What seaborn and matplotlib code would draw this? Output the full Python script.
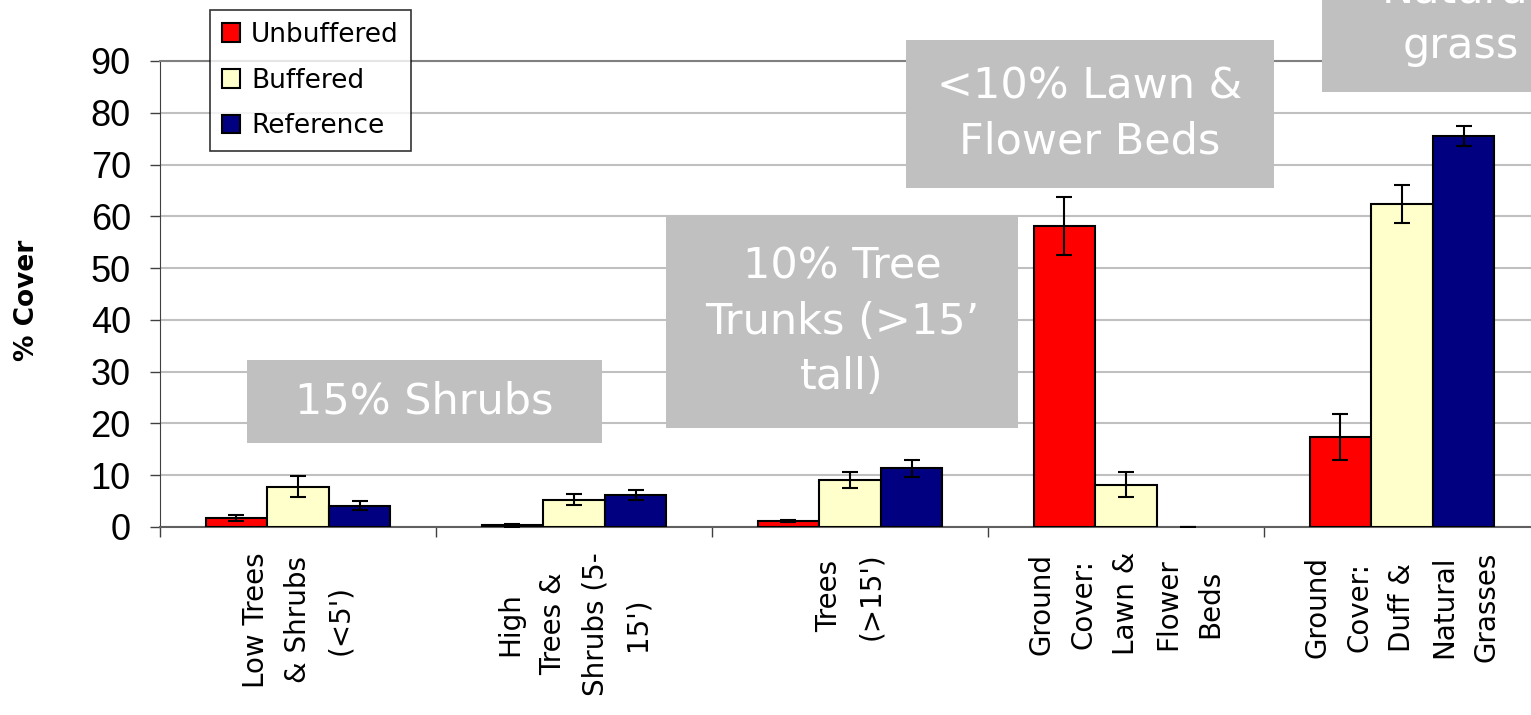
import pandas as pd
import numpy as np
import seaborn as sns
import matplotlib.pyplot as plt
from matplotlib.patches import Rectangle

# Data
categories = ["Low Trees\n& Shrubs\n(<5')",
              "High\nTrees &\nShrubs (5-\n15')",
              "Trees\n(>15')",
              "Ground\nCover:\nLawn &\nFlower\nBeds",
              "Ground\nCover:\nDuff &\nNatural\nGrasses"]
series = ["Unbuffered", "Buffered", "Reference"]
unbuffered = [1.7, 0.35, 1.15, 58.1, 17.4]
buffered = [7.8, 5.3, 9.1, 8.2, 62.4]
reference = [4.1, 6.2, 11.3, 0.0, 75.5]
unbuffered_err = [0.6, 0.3, 0.2, 5.6, 4.4]
buffered_err = [2.1, 1.0, 1.5, 2.5, 3.6]
reference_err = [0.9, 1.0, 1.7, 0.0, 2.0]
yticks = list(range(0, 100, 10))

colors = ["#FF0000", "#FFFFCC", "#000080"]

df = pd.DataFrame({
    "Category": categories * 3,
    "Series": sum([[s] * len(categories) for s in series], []),
    "Cover": unbuffered + buffered + reference,
})
errs = [unbuffered_err, buffered_err, reference_err]

sns.set_style("white")
plt.rcParams["font.family"] = ["DejaVu Sans"]
plt.rcParams["text.color"] = "black"

W, H = 1531, 715
fig = plt.figure(figsize=(W / 100, H / 100), dpi=100)
ax = fig.add_axes([160 / W, (H - 527) / H, 1380 / W, 466 / H])

sns.barplot(data=df, x="Category", y="Cover", hue="Series", palette=colors,
            width=0.67, errorbar=None, edgecolor="black", linewidth=1.5,
            saturation=1, ax=ax, zorder=3)

# error bars on each bar
for cont, e in zip(ax.containers, errs):
    for p in cont:
        if p.get_height() == 0:
            p.set_linewidth(0)
    xs = [p.get_x() + p.get_width() / 2 for p in cont]
    hs = [p.get_height() for p in cont]
    ax.errorbar(xs, hs, yerr=e, fmt="none", ecolor="black", elinewidth=1.5,
                capsize=5.5, capthick=1.5, zorder=4)

ax.set_xlim(-0.5, 4.5)
ax.set_ylim(0, 90)
ax.set_yticks(yticks)
ax.set_yticklabels([str(t) for t in yticks], family="Liberation Sans", fontsize=26,
                   color="black")
ax.yaxis.grid(True, color="#c0c0c0", linewidth=1.5, zorder=0)
ax.set_axisbelow(True)
ax.tick_params(axis="y", direction="out", length=7, width=1, color="#404040", pad=14, left=True)

ax.set_xticks(range(len(categories)))
ax.set_xticklabels(categories, rotation=90, fontsize=20, ha="center", va="top",
                   multialignment="center", linespacing=1.65, color="black")
ax.tick_params(axis="x", which="major", length=0, pad=18)
ax.set_xticks(np.arange(-0.5, 5, 1), minor=True)
ax.tick_params(axis="x", which="minor", direction="out", length=7, width=1, color="#404040", bottom=True)

ax.spines["right"].set_visible(False)
ax.spines["top"].set_color("#808080")
ax.spines["top"].set_linewidth(1.5)
ax.spines["left"].set_color("#404040")
ax.spines["bottom"].set_color("#606060")
ax.spines["bottom"].set_linewidth(1.5)
ax.set_xlabel("")
ax.set_ylabel("")

fig.text(27 / W, (H - 300) / H, "% Cover", rotation=90, ha="center", va="center",
         fontweight="bold", fontsize=19)

# legend
handles, labels = ax.get_legend_handles_labels()
if ax.get_legend():
    ax.get_legend().remove()
leg = fig.legend(handles, labels, loc="upper left", bbox_to_anchor=(210 / W, 1 - 10 / H),
                 fontsize=19, frameon=True, fancybox=False, edgecolor="black",
                 handlelength=0.7, handleheight=0.7, handletextpad=0.4,
                 labelspacing=0.75, borderpad=0.45, borderaxespad=0)
leg.get_frame().set_linewidth(1.2)


# gray annotation boxes (pixel coords: x0, y0 top, x1, y1 bottom)
def box(x0, y0, x1, y1, text, ty=None):
    fig.patches.append(Rectangle((x0 / W, 1 - y1 / H), (x1 - x0) / W, (y1 - y0) / H,
                                 transform=fig.transFigure, facecolor="#C0C0C0",
                                 edgecolor="none", zorder=5))
    if ty is None:
        ty = (y0 + y1) / 2
    fig.text((x0 + x1) / 2 / W, 1 - ty / H, text, ha="center", va="center",
             color="white", fontsize=31, multialignment="center", linespacing=1.4,
             zorder=6)


box(247, 360, 602, 443, "15% Shrubs")
box(666, 216, 1018, 428, "10% Tree\nTrunks (>15\u2019\ntall)")
box(906, 40, 1274, 188, "<10% Lawn &\nFlower Beds")
box(1322, -100, 1600, 92, "Natural\ngrass", ty=18)

fig.savefig("out.png", dpi=100)
